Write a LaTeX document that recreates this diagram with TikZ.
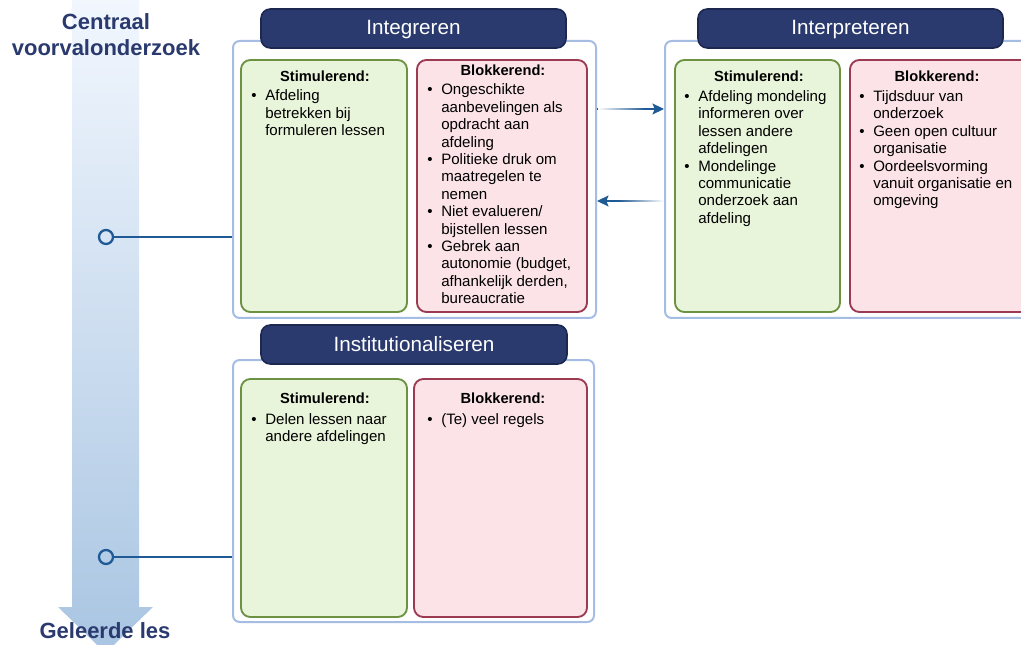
\documentclass[tikz,border=0pt]{standalone}
\usepackage{fontspec}
\setmainfont{Liberation Sans}
\usetikzlibrary{fit,arrows.meta,fadings}

\definecolor{navy}{HTML}{2A3A6E}
\definecolor{navyedge}{HTML}{1C2850}
\definecolor{frame}{HTML}{A6BDE3}
\definecolor{greenfill}{HTML}{E9F5DA}
\definecolor{greenedge}{HTML}{6C9140}
\definecolor{redfill}{HTML}{FBE3E8}
\definecolor{rededge}{HTML}{9C3A52}
\definecolor{linkblue}{HTML}{1F5A94}
\definecolor{shafttop}{HTML}{F2F7FE}
\definecolor{shaftbot}{HTML}{A9C5E2}

% bullet item with hanging indent; lines inside an item are broken with \newline
\newcommand\itm{\par\hangindent=10.5pt\hangafter=1\noindent\makebox[10.5pt][l]{\textbullet}}
\newcommand\bullist[1]{\parbox[t]{180pt}{\raggedright #1}}

\begin{document}
\begin{tikzpicture}[x=0.75pt,y=-0.75pt,
  outerbox/.style={draw=frame,line width=1.5pt,rounded corners=5pt,fill=white,inner sep=0pt},
  greenbox/.style={draw=greenedge,fill=greenfill,line width=1.4pt,rounded corners=7pt,inner sep=0pt},
  redbox/.style={draw=rededge,fill=redfill,line width=1.4pt,rounded corners=7pt,inner sep=0pt},
  titlebox/.style={draw=navyedge,fill=navy,line width=1.2pt,rounded corners=7pt,inner sep=0pt},
  titletext/.style={anchor=base,text=white,inner sep=0pt,font=\fontsize{15.5}{18}\selectfont},
  head/.style={anchor=base,inner sep=0pt,font=\fontsize{11}{13.05}\selectfont\bfseries},
  lst/.style={anchor=base west,inner sep=0pt,font=\fontsize{11.3}{13.05}\selectfont},
  big/.style={anchor=base,inner sep=0pt,text=navy,font=\fontsize{16.5}{19.5}\selectfont\bfseries},
  dot/.style={circle,draw=linkblue,line width=1.7pt,minimum size=10.5pt,inner sep=0pt},
  conn/.style={draw=linkblue,line width=1.8pt},
  flow/.style={draw=linkblue,line width=1.8pt,-{Stealth[length=8.5pt,width=8pt,inset=1.5pt]}},
  fadeout/.style={fill=white,draw=none}
]
\clip (0,0) rectangle (1021,645);
\fill[white] (0,0) rectangle (1021,645);

% time axis
\shade[top color=shafttop,bottom color=shaftbot]
  (72,-2) -- (139,-2) -- (139,607) -- (153,607) -- (105.5,653) -- (58,607) -- (72,607) -- cycle;
\node[big] (start) at (106,30) {\parbox[t]{220pt}{\centering Centraal\\voorvalonderzoek}};
\node[big] (end) at (105,638) {Geleerde les};

% Integreren
\node[outerbox,fit={(233,41) (596,318)}] (integ) {};
\node[titlebox,fit={(261,9) (566,48)}] (integT) {};
\node[titletext] (integL) at (413.5,35) {Integreren};
\node[greenbox,fit={(241,60) (407,312)}] (integG) {};
\node[redbox,fit={(417,60) (587,312)}] (integR) {};
\node[head] (integGh) at (325,81.5) {Stimulerend:};
\node[head] (integRh) at (503,76) {Blokkerend:};
\node[lst] (integGl) at (251,101) {\bullist{\itm Afdeling\newline betrekken bij\newline formuleren lessen}};
\node[lst] (integRl) at (427,95) {\bullist{%
  \itm Ongeschikte\newline aanbevelingen als\newline opdracht aan\newline afdeling
  \itm Politieke druk om\newline maatregelen te\newline nemen
  \itm Niet evalueren/\newline bijstellen lessen
  \itm Gebrek aan\newline autonomie (budget,\newline afhankelijk derden,\newline bureaucratie}};

% Interpreteren
\node[outerbox,fit={(665,41) (1045,318)}] (interp) {};
\node[titlebox,fit={(698,9) (1003,48)}] (interpT) {};
\node[titletext] (interpL) at (850.5,35) {Interpreteren};
\node[greenbox,fit={(675,60) (840,312)}] (interpG) {};
\node[redbox,fit={(850,60) (1035,312)}] (interpR) {};
\node[head] (interpGh) at (759,81.5) {Stimulerend:};
\node[head] (interpRh) at (937,81.5) {Blokkerend:};
\node[lst] (interpGl) at (684,101.5) {\bullist{%
  \itm Afdeling mondeling\newline informeren over\newline lessen andere\newline afdelingen
  \itm Mondelinge\newline communicatie\newline onderzoek aan\newline afdeling}};
\node[lst] (interpRl) at (859,101.5) {\bullist{%
  \itm Tijdsduur van\newline onderzoek
  \itm Geen open cultuur\newline organisatie
  \itm Oordeelsvorming\newline vanuit organisatie en\newline omgeving}};

% Institutionaliseren
\node[outerbox,fit={(233,360) (594,622)}] (inst) {};
\node[titlebox,fit={(261,325) (567,364)}] (instT) {};
\node[titletext] (instL) at (414,351) {Institutionaliseren};
\node[greenbox,fit={(241,379) (407,617)}] (instG) {};
\node[redbox,fit={(414,379) (587,617)}] (instR) {};
\node[head] (instGh) at (325,403) {Stimulerend:};
\node[head] (instRh) at (503,403) {Blokkerend:};
\node[lst] (instGl) at (251,424) {\bullist{\itm Delen lessen naar\newline andere afdelingen}};
\node[lst] (instRl) at (427,424) {\bullist{\itm (Te) veel regels}};

% exchange between the two phases, each line fading out towards its tail
% (a white veil that is opaque at the tail and clear towards the head)
\draw[flow] (integ.east |- 0,109) -- (interp.west |- 0,109);
\fill[fadeout,path fading=east] (598,104) rectangle (645,114);
\draw[flow] (interp.west |- 0,201) -- (integ.east |- 0,201);
\fill[fadeout,path fading=west] (618,196) rectangle (664,206);

% markers on the axis
\node[dot] (m1) at (106,237) {};
\node[dot] (m2) at (106,557) {};
\draw[conn] (m1.east) -- (m1.east -| integ.west);
\draw[conn] (m2.east) -- (m2.east -| inst.west);
\end{tikzpicture}
\end{document}
